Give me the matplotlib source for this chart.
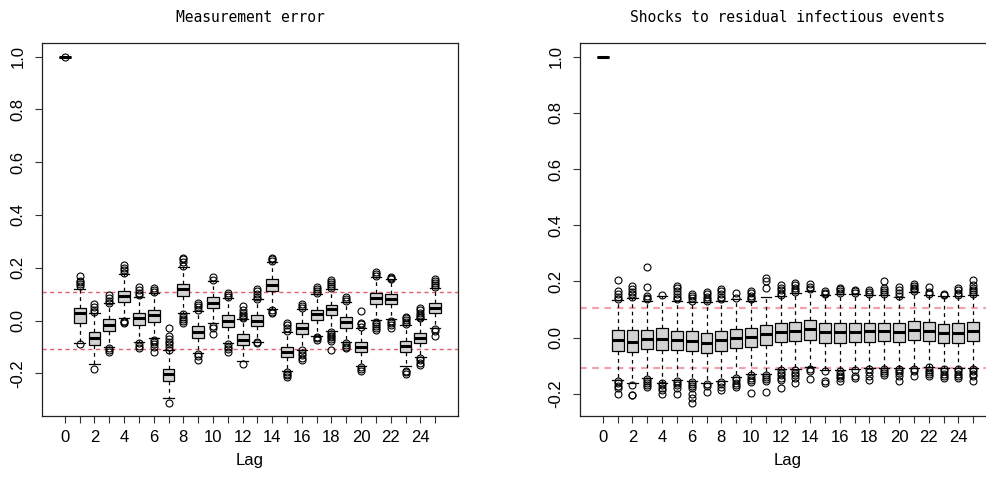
import matplotlib
matplotlib.use("Agg")
import matplotlib.pyplot as plt

lags = list(range(26))
tick_labels = [str(l) if l % 2 == 0 else "" for l in lags]
band = 0.107

# measurement error ACF summaries per lag
me_q1 = [1.0, -0.009, -0.094, -0.040, 0.071, -0.018, -0.005, -0.229, 0.092, -0.065,
         0.046, -0.024, -0.094, -0.022, 0.111, -0.138, -0.052, 0.001, 0.020, -0.027,
         -0.119, 0.062, 0.062, -0.119, -0.087, 0.027]
me_med = [1.0, 0.027, -0.066, -0.018, 0.094, 0.008, 0.020, -0.204, 0.120, -0.043,
          0.068, 0.000, -0.072, 0.000, 0.134, -0.119, -0.030, 0.023, 0.042, -0.005,
          -0.100, 0.084, 0.081, -0.097, -0.066, 0.049]
me_q3 = [1.0, 0.049, -0.043, 0.004, 0.113, 0.027, 0.039, -0.182, 0.137, -0.022,
         0.090, 0.020, -0.052, 0.020, 0.156, -0.100, -0.011, 0.039, 0.058, 0.014,
         -0.081, 0.103, 0.100, -0.077, -0.047, 0.068]
me_lo = [1.0, -0.087, -0.163, -0.100, 0.008, -0.081, -0.068, -0.292, 0.029, -0.123,
         -0.011, -0.087, -0.153, -0.081, 0.043, -0.192, -0.110, -0.059, -0.039, -0.081,
         -0.173, 0.001, 0.004, -0.173, -0.138, -0.030]
me_hi = [1.0, 0.120, 0.029, 0.065, 0.178, 0.090, 0.103, -0.113, 0.204, 0.037,
         0.150, 0.084, 0.004, 0.080, 0.223, -0.043, 0.042, 0.100, 0.118, 0.071,
         -0.027, 0.166, 0.156, -0.018, 0.004, 0.125]
me_out = [
    [1.0],
    [0.13, 0.14, 0.145, 0.15, 0.168, -0.09],
    [0.032, 0.04, 0.05, 0.062, -0.184],
    [0.068, 0.075, 0.085, 0.096, -0.104, -0.112, -0.119],
    [0.18, 0.19, 0.2, 0.21, -0.001, -0.006, -0.011],
    [0.095, 0.105, 0.115, 0.128, -0.085, -0.095, -0.103],
    [0.107, 0.115, 0.125, -0.072, -0.08, -0.09, -0.1, -0.119],
    [-0.027, -0.06, -0.07, -0.08, -0.09, -0.1, -0.11, -0.313],
    [0.208, 0.22, 0.232, 0.238, 0.025, 0.015, 0.005, -0.002, -0.009],
    [0.04, 0.05, 0.058, 0.065, -0.126, -0.135, -0.148],
    [0.155, 0.166, -0.02, -0.03, -0.053],
    [0.088, 0.095, 0.105, -0.09, -0.1, -0.108, -0.119],
    [0.008, 0.015, 0.022, 0.03, 0.038, 0.054, -0.163],
    [0.083, 0.09, 0.1, 0.11, 0.118, -0.083, -0.087],
    [0.226, 0.232, 0.238, 0.04, 0.034, 0.028],
    [-0.01, -0.018, -0.03, -0.04, -0.195, -0.202, -0.208, -0.214],
    [0.046, 0.055, 0.062, -0.113, -0.122, -0.132, -0.142, -0.151],
    [0.103, 0.11, 0.118, 0.126, -0.062, -0.068, -0.075],
    [0.122, 0.13, 0.138, 0.147, 0.155, -0.043, -0.05, -0.057, -0.064, -0.07, -0.077, -0.113],
    [0.074, 0.082, 0.09, -0.085, -0.092, -0.1, -0.106],
    [-0.008, -0.015, -0.024, 0.037, -0.177, -0.185, -0.193],
    [0.17, 0.176, 0.182, -0.004, -0.012, -0.02, -0.03, -0.037],
    [0.158, 0.163, 0.166, 0.0, -0.008, -0.018, -0.03],
    [-0.014, -0.005, 0.002, 0.008, 0.012, -0.191, -0.197, -0.202],
    [0.008, 0.015, 0.022, 0.03, 0.038, 0.046, -0.142, -0.15, -0.16, -0.167],
    [0.128, 0.135, 0.142, 0.15, 0.157, -0.033, -0.04, -0.058],
]

# shocks to residual infectious events
sh_q1 = [1.0, -0.046, -0.050, -0.042, -0.044, -0.044, -0.046, -0.053, -0.046, -0.038,
         -0.032, -0.026, -0.014, -0.011, -0.008, -0.018, -0.018, -0.014, -0.014, -0.011,
         -0.014, -0.008, -0.011, -0.018, -0.018, -0.011]
sh_med = [1.0, -0.008, -0.014, -0.006, -0.006, -0.008, -0.011, -0.018, -0.008, -0.002,
          0.004, 0.013, 0.021, 0.025, 0.030, 0.019, 0.019, 0.021, 0.024, 0.024,
          0.021, 0.027, 0.024, 0.018, 0.018, 0.025]
sh_q3 = [1.0, 0.027, 0.027, 0.027, 0.033, 0.025, 0.025, 0.018, 0.025, 0.030,
         0.033, 0.045, 0.051, 0.057, 0.063, 0.051, 0.053, 0.053, 0.053, 0.053,
         0.051, 0.061, 0.057, 0.049, 0.051, 0.055]
sh_lo = [1.0, -0.151, -0.160, -0.145, -0.160, -0.151, -0.153, -0.160, -0.153, -0.141,
         -0.129, -0.129, -0.113, -0.113, -0.103, -0.115, -0.115, -0.113, -0.107, -0.107,
         -0.107, -0.109, -0.103, -0.109, -0.109, -0.109]
sh_hi = [1.0, 0.134, 0.140, 0.132, 0.148, 0.132, 0.128, 0.126, 0.132, 0.137,
         0.132, 0.144, 0.148, 0.158, 0.167, 0.152, 0.156, 0.156, 0.152, 0.152,
         0.146, 0.162, 0.152, 0.150, 0.148, 0.152]
sh_out = [
    [],
    [0.138, 0.145, 0.155, 0.165, 0.205, -0.155, -0.163, -0.172, -0.18, -0.2],
    [0.145, 0.155, 0.162, 0.172, 0.185, -0.169, -0.203, -0.206],
    [0.136, 0.142, 0.148, 0.18, 0.253, -0.148, -0.155, -0.162, -0.17, -0.175],
    [0.152, -0.163, -0.17, -0.178, -0.186, -0.2],
    [0.136, 0.145, 0.155, 0.165, 0.175, 0.183, -0.155, -0.162, -0.17, -0.18, -0.2],
    [0.132, 0.14, 0.148, 0.155, -0.157, -0.165, -0.172, -0.18, -0.2, -0.216, -0.232],
    [0.13, 0.138, 0.146, 0.155, 0.163, -0.165, -0.172, -0.195],
    [0.136, 0.145, 0.155, 0.165, 0.174, -0.157, -0.165, -0.175, -0.185],
    [0.14, 0.158, -0.145, -0.152, -0.16, -0.168, -0.175],
    [0.136, 0.142, 0.15, 0.158, 0.165, -0.133, -0.142, -0.15, -0.158, -0.196],
    [0.178, 0.2, 0.212, -0.133, -0.14, -0.148, -0.156, -0.192],
    [0.152, 0.16, 0.168, 0.176, 0.188, -0.117, -0.125, -0.133, -0.142, -0.152, -0.18],
    [0.162, 0.17, 0.178, 0.186, 0.195, -0.117, -0.125, -0.133, -0.142, -0.163],
    [0.172, 0.18, 0.19, -0.112, -0.12, -0.148],
    [0.155, 0.16, 0.165, -0.118, -0.155, -0.162],
    [0.158, 0.165, 0.172, 0.178, -0.12, -0.128, -0.136, -0.145, -0.155],
    [0.16, 0.166, 0.17, -0.116, -0.138, -0.143],
    [0.155, 0.162, 0.17, -0.11, -0.122, -0.138, -0.15],
    [0.155, 0.162, 0.17, 0.178, 0.2, -0.11, -0.118, -0.126, -0.132],
    [0.15, 0.16, 0.168, 0.18, -0.11, -0.118, -0.126, -0.135, -0.155],
    [0.165, 0.172, 0.178, 0.185, 0.19, -0.112, -0.12, -0.136],
    [0.155, 0.162, 0.18, -0.106, -0.114, -0.122, -0.13, -0.136],
    [0.152, 0.156, -0.112, -0.12, -0.128, -0.136, -0.145],
    [0.152, 0.16, 0.168, 0.176, -0.112, -0.12, -0.128, -0.136, -0.145],
    [0.155, 0.162, 0.17, 0.178, 0.186, 0.205, -0.112, -0.12, -0.128, -0.135, -0.155],
]

plt.rcParams["font.family"] = ["Liberation Sans", "DejaVu Sans"]

fig = plt.figure(figsize=(9.87, 4.79), dpi=100)


def draw_panel(ax, q1, med, q3, lo, hi, out, title, band_color, band_lw, ylim):
    stats = []
    for i in range(len(lags)):
        stats.append(dict(q1=q1[i], med=med[i], q3=q3[i], whislo=lo[i],
                          whishi=hi[i], fliers=out[i]))
    ax.bxp(stats, positions=lags, widths=0.8, capwidths=0.7, patch_artist=True,
           boxprops=dict(facecolor="#d3d3d3", edgecolor="black", linewidth=0.9),
           medianprops=dict(color="black", linewidth=2.2, solid_capstyle="butt"),
           whiskerprops=dict(color="black", linewidth=0.9, linestyle=(0, (3, 3))),
           capprops=dict(color="black", linewidth=0.9),
           flierprops=dict(marker="o", markerfacecolor="none", markeredgecolor="black",
                           markersize=5, markeredgewidth=0.8))
    for y in (band, -band):
        ax.axhline(y, color=band_color, linewidth=band_lw, linestyle=(0, (3, 2.5)), zorder=0)

    ax.set_xlim(-1.54, 26.54)
    ax.set_ylim(*ylim)
    ax.set_xticks(lags)
    ax.set_xticklabels(tick_labels)
    ax.set_yticks([-0.2, 0.0, 0.2, 0.4, 0.6, 0.8, 1.0])
    ax.set_yticklabels(["-0.2", "0.0", "0.2", "0.4", "0.6", "0.8", "1.0"],
                       rotation=90, va="center")
    ax.tick_params(axis="both", labelsize=12, length=5, width=0.8, color="#333333")
    ax.tick_params(axis="x", pad=5)
    ax.tick_params(axis="y", pad=7)
    for s in ax.spines.values():
        s.set_linewidth(0.9)
        s.set_color("#222222")
    ax.set_xlabel("Lag", fontsize=12, labelpad=6)
    ax.set_title(title, family=["DejaVu Sans Mono"], fontsize=10.5, pad=15)


ax1 = fig.add_axes([42 / 987, 63 / 479, 416 / 987, 373 / 479])
draw_panel(ax1, me_q1, me_med, me_q3, me_lo, me_hi, me_out,
           "Measurement error", "#e8606e", 1.0, (-0.362, 1.052))

ax2 = fig.add_axes([580 / 987, 63 / 479, 416 / 987, 373 / 479])
draw_panel(ax2, sh_q1, sh_med, sh_q3, sh_lo, sh_hi, sh_out,
           "Shocks to residual infectious events", "#f2a2ac", 1.6, (-0.279, 1.049))

fig.savefig("out.png", dpi=100)
